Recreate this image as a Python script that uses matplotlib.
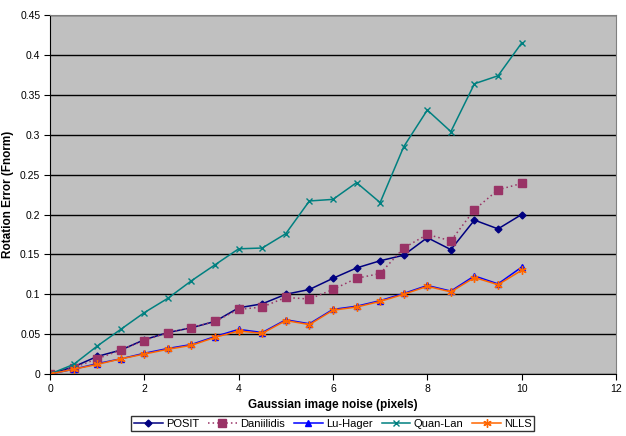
import matplotlib.pyplot as plt
from matplotlib.ticker import FuncFormatter, MultipleLocator

plt.rcParams['font.family'] = ['Liberation Sans', 'DejaVu Sans']

# Gaussian noise levels (pixels)
noise = [0, 0.5, 1, 1.5, 2, 2.5, 3, 3.5, 4, 4.5, 5,
         5.5, 6, 6.5, 7, 7.5, 8, 8.5, 9, 9.5, 10]

# Rotation error per method
posit = [0, 0.009, 0.022, 0.030, 0.043, 0.052, 0.058, 0.066, 0.083, 0.088, 0.100,
         0.106, 0.120, 0.133, 0.142, 0.149, 0.171, 0.156, 0.193, 0.182, 0.200]
daniilidis = [0, 0.008, 0.019, 0.030, 0.042, 0.052, 0.058, 0.066, 0.081, 0.084, 0.096,
              0.094, 0.106, 0.120, 0.126, 0.158, 0.175, 0.167, 0.206, 0.231, 0.239]
lu_hager = [0, 0.006, 0.013, 0.019, 0.026, 0.032, 0.037, 0.047, 0.056, 0.052, 0.068,
            0.063, 0.081, 0.085, 0.092, 0.101, 0.111, 0.104, 0.123, 0.113, 0.134]
quan_lan = [0, 0.012, 0.035, 0.056, 0.077, 0.095, 0.117, 0.137, 0.157, 0.158, 0.176,
            0.217, 0.219, 0.240, 0.215, 0.285, 0.331, 0.304, 0.364, 0.374, 0.415]
nlls = [0, 0.006, 0.012, 0.019, 0.025, 0.031, 0.036, 0.046, 0.054, 0.051, 0.067,
        0.062, 0.080, 0.084, 0.091, 0.100, 0.110, 0.103, 0.121, 0.112, 0.130]

fig = plt.figure(figsize=(6.26, 4.36), dpi=100)
ax = fig.add_axes([0.0799, 0.1422, 0.904, 0.823])
ax.set_facecolor('#C0C0C0')

ax.plot(noise, posit, color='#000080', marker='D', markersize=3.5, lw=1.1, label='POSIT')
ax.plot(noise, daniilidis, color='#993366', ls=(0, (1, 2)), marker='s', markersize=6,
        lw=1.1, label='Daniilidis')
ax.plot(noise, lu_hager, color='#0000FF', marker='^', markersize=5, lw=1.1, label='Lu-Hager')
ax.plot(noise, quan_lan, color='#008080', marker='x', markersize=5, lw=1.1, label='Quan-Lan')
ax.plot(noise, nlls, color='#FF6600', marker=(6, 2, 0), markersize=6, lw=1.1, label='NLLS')

ax.set_xlim(0, 12)
ax.set_ylim(0, 0.45)
ax.xaxis.set_major_locator(MultipleLocator(2))
ax.yaxis.set_major_locator(MultipleLocator(0.05))
ax.yaxis.set_major_formatter(FuncFormatter(lambda v, p: ('%.2f' % v).rstrip('0').rstrip('.')))
ax.grid(axis='y', color='black', lw=1)
ax.set_axisbelow(True)

for side in ['top', 'right']:
    ax.spines[side].set_color('#808080')
for side in ['left', 'bottom']:
    ax.spines[side].set_color('black')
ax.tick_params(direction='out', length=4, labelsize=7.5, colors='black', pad=3)

ax.set_xlabel('Gaussian image noise (pixels)', fontsize=8.5, fontweight='bold', labelpad=4)
ax.set_ylabel('Rotation Error (Fnorm)', fontsize=8.5, fontweight='bold', labelpad=4)

leg = ax.legend(loc='center', bbox_to_anchor=(0.5, -0.138), ncol=5, fontsize=8,
                frameon=True, fancybox=False, edgecolor='black', handlelength=2.6,
                handletextpad=0.3, columnspacing=0.8, borderpad=0.2)
leg.get_frame().set_linewidth(1)

fig.savefig('out.png', dpi=100)
